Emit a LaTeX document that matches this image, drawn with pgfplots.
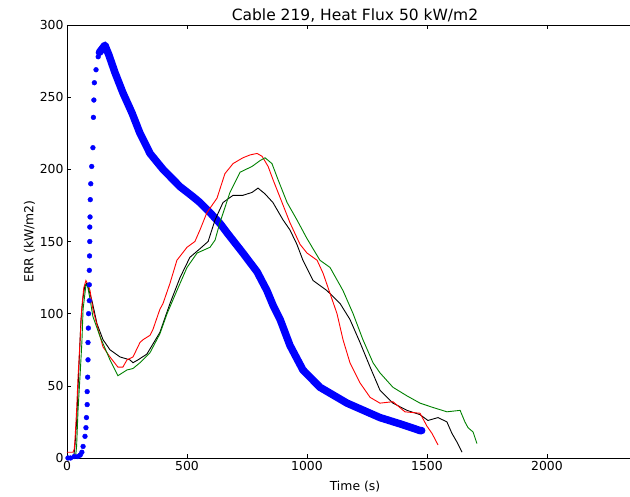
\documentclass[border=0pt]{standalone}
\usepackage{fontspec}
\setmainfont{DejaVu Sans}
\usepackage{pgfplots}
\pgfplotsset{compat=1.18}

\definecolor{mplgreen}{rgb}{0,0.5,0}

\begin{document}
\begin{tikzpicture}
\useasboundingbox (-67pt,-39pt) rectangle (563pt,458pt);
\clip (-67pt,-39pt) rectangle (563pt,458pt);
\begin{axis}[
    at={(0pt,0pt)}, anchor=origin,
    scale only axis,
    width=576pt, height=433pt,
    xmin=0, xmax=2400,
    ymin=0, ymax=300,
    xtick={0,500,1000,1500,2000},
    ytick={0,50,100,150,200,250,300},
    tick align=inside,
    major tick length=4pt,
    tick style={black, line width=0.6pt},
    axis line style={line width=0.8pt},
    /pgf/number format/assume math mode=true,
    /pgf/number format/set thousands separator={},
    ticklabel style={font=\fontsize{12.4}{14}\selectfont},
    title={Cable 219, Heat Flux 50 kW/m2},
    title style={font=\fontsize{15.5}{17}\selectfont, yshift=-7pt},
    xlabel={Time (s)},
    ylabel={ERR  (kW/m2)},
    label style={font=\fontsize{12.4}{14}\selectfont},
    xlabel style={yshift=-3pt},
    ylabel style={yshift=-2pt},
]

% blue: rising part drawn as separate dots
\addplot[only marks, mark=*, mark size=2.4pt, color=blue] coordinates {
(4,0) (15,0) (30,1) (45,1) (55,2) (62,4) (67,8) (75,15) (79,21) (81,28)
(84,37) (84,46) (86,56) (87.5,68) (87.5,80) (89,90) (90,100) (93,109)
(93,120) (93,130) (94,140) (95,150) (95,160) (96,167) (97,179) (99,190)
(103,202) (108,215) (110,236) (112,248) (114,260) (121,269) (130,278)
(145,284) (158,286)
};
% blue: dense decay, dots merge into a band
\addplot[color=blue, line width=7.5pt, line cap=round, line join=round] coordinates {
(135,281) (158,286) (175,279) (200,267) (233,253) (271,239) (304,225)
(346,211) (400,200) (471,188) (525,181) (554,177) (596,170) (640,162)
(667,156) (733,142) (792,129) (833,116) (858,106) (888,96) (929,78)
(983,61) (1054,49) (1167,38) (1304,28) (1400,23) (1471,19) (1478,19)
};

\addplot[color=black, line width=0.9pt] coordinates {
(0,1) (28,1) (33,8) (40,25) (46,48) (52,72) (58,95) (66,110) (74,119)
(82,121) (92,116) (104,109) (125,93) (150,82) (179,75) (221,70) (262,68)
(275,66) (296,68) (333,72) (387,87) (429,107) (471,125) (512,139) (554,145)
(588,150) (617,165) (650,177) (692,182) (733,182) (771,184) (796,187)
(825,183) (858,177) (900,165) (929,158) (958,148) (983,137) (1025,123)
(1083,116) (1138,107) (1179,96) (1221,80) (1263,63) (1304,47) (1358,38)
(1417,33) (1471,30) (1504,26) (1546,28) (1583,25) (1604,17) (1625,11) (1646,4)
};

\addplot[color=red, line width=0.9pt] coordinates {
(0,4) (25,4) (30,6) (33,12) (40,33) (46,56) (54,80) (61,103) (70,118) (79,123)
(88,120) (96,116) (108,103) (130,89) (150,77) (179,70) (212,63) (233,63)
(250,68) (275,70) (304,80) (317,82) (346,85) (358,89) (387,103) (400,107)
(429,121) (458,137) (500,146) (533,150) (554,158) (583,170) (625,180)
(658,197) (692,204) (733,208) (763,210) (792,211) (813,209) (838,202)
(858,193) (896,177) (929,163) (971,148) (1000,142) (1042,137) (1067,128)
(1096,114) (1125,100) (1150,82) (1179,66) (1221,52) (1263,42) (1304,38)
(1358,39) (1408,32) (1471,31) (1500,22) (1521,17) (1546,9)
};

\addplot[color=mplgreen, line width=0.9pt] coordinates {
(0,0) (35,0) (40,8) (46,33) (54,56) (62,80) (67,103) (79,120) (86,119)
(96,110) (108,98) (138,84) (179,68) (212,57) (250,61) (275,62) (304,66)
(346,73) (387,86) (417,100) (458,116) (500,132) (542,142) (596,146)
(617,151) (637,163) (679,184) (721,198) (771,202) (804,206) (825,208)
(854,204) (879,193) (917,177) (958,165) (1000,152) (1054,137) (1096,132)
(1150,116) (1192,100) (1233,82) (1275,66) (1304,59) (1358,49) (1417,43)
(1471,38) (1525,35) (1583,32) (1638,33) (1658,25) (1671,21) (1692,18) (1708,10)
};

\end{axis}
\end{tikzpicture}
\end{document}
